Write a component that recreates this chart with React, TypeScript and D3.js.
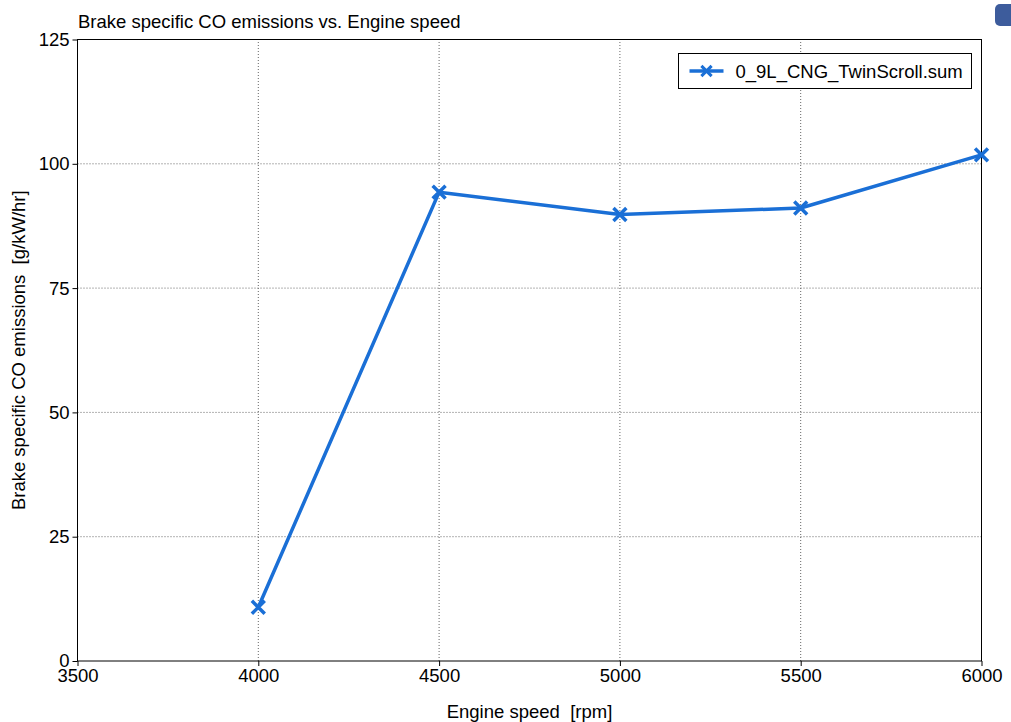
import { useRef, useEffect } from 'react';
import * as d3 from 'd3';

// engine speeds [rpm] and brake specific CO [g/kW/hr]
const speeds = [4000, 4500, 5000, 5500, 6000];
const coValues = [10.8, 94.3, 89.8, 91.1, 101.8];
const xTicks = [3500, 4000, 4500, 5000, 5500, 6000];
const yTicks = [0, 25, 50, 75, 100, 125];
const seriesName = '0_9L_CNG_TwinScroll.sum';

export default function App() {
  const svgRef = useRef<SVGSVGElement>(null);

  useEffect(() => {
    const svg = d3.select(svgRef.current);
    svg.selectAll('*').remove();

    const width = 1011;
    const height = 722;
    const m = { top: 39.5, right: 29.5, bottom: 61, left: 77.5 };
    const font = 'Liberation Sans, Arial, sans-serif';
    const fs = 18.5;
    const blue = '#1a6fd6';

    const x = d3.scaleLinear().domain([3500, 6000]).range([m.left, width - m.right]);
    const y = d3.scaleLinear().domain([0, 125]).range([height - m.bottom, m.top]);

    // corner decoration
    svg.append('rect')
      .attr('x', 995).attr('y', 4).attr('width', 24).attr('height', 22)
      .attr('rx', 5).attr('fill', '#3d5c9c');

    // grid
    svg.append('g').selectAll('line')
      .data(xTicks.slice(1, -1))
      .enter().append('line')
      .attr('x1', d => x(d)).attr('x2', d => x(d))
      .attr('y1', y(0)).attr('y2', y(125))
      .attr('stroke', '#666').attr('stroke-dasharray', '1,2');
    svg.append('g').selectAll('line')
      .data(yTicks.slice(1, -1))
      .enter().append('line')
      .attr('x1', x(3500)).attr('x2', x(6000))
      .attr('y1', d => y(d)).attr('y2', d => y(d))
      .attr('stroke', '#666').attr('stroke-dasharray', '1,2');

    // frame
    svg.append('rect')
      .attr('x', x(3500)).attr('y', y(125))
      .attr('width', x(6000) - x(3500)).attr('height', y(0) - y(125))
      .attr('fill', 'none').attr('stroke', '#000').attr('stroke-width', 1);

    const xAxis = svg.append('g')
      .attr('transform', `translate(0,${y(0)})`)
      .call(d3.axisBottom(x).tickValues(xTicks).tickSize(5).tickPadding(3).tickFormat(d3.format('d')));
    xAxis.select('.domain').remove();
    xAxis.selectAll('text').attr('font-size', fs).attr('font-family', font).attr('fill', '#000');

    const yAxis = svg.append('g')
      .attr('transform', `translate(${x(3500)},0)`)
      .call(d3.axisLeft(y).tickValues(yTicks).tickSize(5).tickPadding(3).tickFormat(d3.format('d')));
    yAxis.select('.domain').remove();
    yAxis.selectAll('text').attr('font-size', fs).attr('font-family', font).attr('fill', '#000');

    // titles
    svg.append('text')
      .attr('x', 78).attr('y', 28)
      .attr('font-size', fs).attr('font-family', font)
      .text('Brake specific CO emissions vs. Engine speed');
    svg.append('text')
      .attr('x', (x(3500) + x(6000)) / 2).attr('y', 718)
      .attr('text-anchor', 'middle').style('white-space', 'pre')
      .attr('font-size', fs).attr('font-family', font)
      .text('Engine speed  [rpm]');
    svg.append('text')
      .attr('transform', `translate(25,${(y(0) + y(125)) / 2}) rotate(-90)`)
      .attr('text-anchor', 'middle').style('white-space', 'pre')
      .attr('font-size', fs).attr('font-family', font)
      .text('Brake specific CO emissions  [g/kW/hr]');

    // series
    const pts = speeds.map((s, i) => [s, coValues[i]] as [number, number]);
    const line = d3.line<[number, number]>().x(d => x(d[0])).y(d => y(d[1]));
    svg.append('path')
      .attr('d', line(pts))
      .attr('fill', 'none').attr('stroke', blue).attr('stroke-width', 3.5)
      .attr('stroke-linejoin', 'round');

    const cross = d3.symbol().type(d3.symbolX).size(110);
    svg.append('g').selectAll('path')
      .data(pts)
      .enter().append('path')
      .attr('d', cross)
      .attr('transform', d => `translate(${x(d[0])},${y(d[1])})`)
      .attr('fill', 'none').attr('stroke', blue).attr('stroke-width', 3.5);

    // legend
    const lg = svg.append('g').attr('transform', 'translate(678.5,53.5)');
    lg.append('rect').attr('width', 293).attr('height', 35)
      .attr('fill', '#fff').attr('stroke', '#000').attr('stroke-width', 1);
    lg.append('line').attr('x1', 11).attr('x2', 45).attr('y1', 17.5).attr('y2', 17.5)
      .attr('stroke', blue).attr('stroke-width', 3.5);
    lg.append('path')
      .attr('d', d3.symbol().type(d3.symbolX).size(70)())
      .attr('transform', 'translate(28,17.5)')
      .attr('fill', 'none').attr('stroke', blue).attr('stroke-width', 3);
    lg.append('text').attr('x', 57).attr('y', 24)
      .attr('font-size', fs).attr('font-family', font)
      .text(seriesName);
  }, []);

  return (
    <svg ref={svgRef} width={1011} height={722}
      style={{ position: 'absolute', left: 0, top: 0, background: '#fff' }} />
  );
}
